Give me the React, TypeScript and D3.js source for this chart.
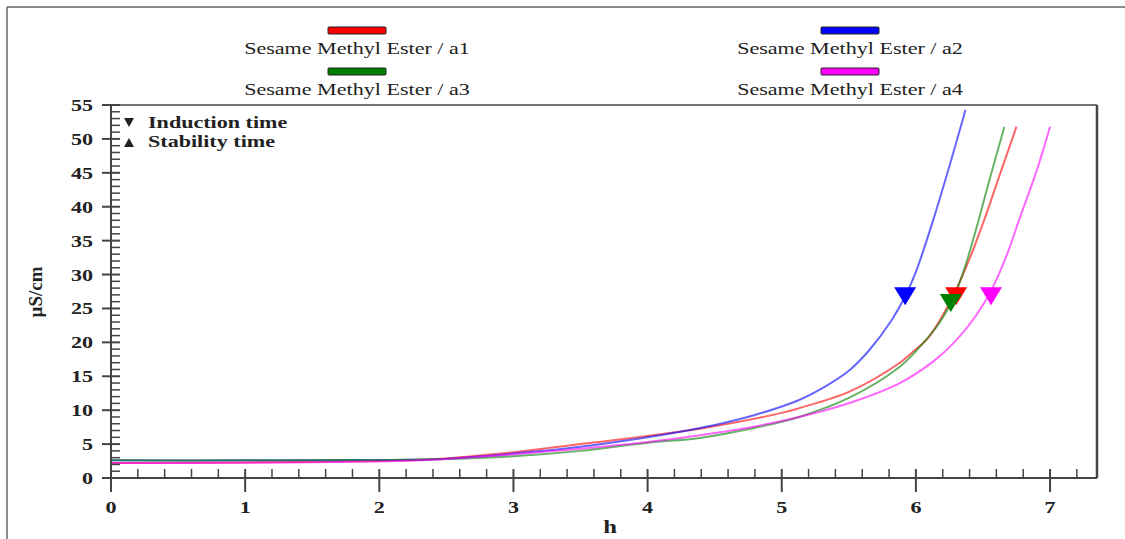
import React from "react";
import * as d3 from "d3";

const seriesNames = ["Sesame Methyl Ester / a1", "Sesame Methyl Ester / a2", "Sesame Methyl Ester / a3", "Sesame Methyl Ester / a4"];
const seriesColors = ["#ff0000", "#0000ff", "#008000", "#ff00ff"];

const a1H = [0, 1, 2, 2.4, 3, 3.5, 4, 4.4, 5, 5.13, 5.5, 5.88, 6.0, 6.08, 6.18, 6.3, 6.4, 6.51, 6.63, 6.75];
const a1V = [2.2, 2.3, 2.5, 2.75, 3.8, 5.0, 6.2, 7.3, 9.6, 10.3, 12.7, 17.0, 19.0, 20.4, 23.3, 27.8, 32.3, 38.1, 45.0, 51.8];

const a2H = [0, 1, 2, 2.4, 3, 3.5, 4, 4.4, 4.8, 5.13, 5.3, 5.5, 5.65, 5.82, 5.92, 6.0, 6.13, 6.25, 6.37];
const a2V = [2.6, 2.6, 2.65, 2.75, 3.6, 4.6, 6.0, 7.4, 9.3, 11.5, 13.2, 15.8, 18.8, 23.3, 26.8, 30.4, 38.1, 46.0, 54.3];

const a3H = [0, 1, 2, 2.4, 3, 3.5, 4, 4.39, 4.8, 5.13, 5.5, 5.88, 6.05, 6.18, 6.3, 6.38, 6.46, 6.56, 6.66];
const a3V = [2.6, 2.6, 2.65, 2.75, 3.2, 4.0, 5.2, 5.9, 7.4, 9.0, 11.8, 16.4, 19.8, 23.0, 27.5, 32.0, 37.5, 44.8, 51.8];

const a4H = [0, 1, 2, 2.4, 3, 3.5, 4, 4.39, 4.8, 5.13, 5.51, 5.88, 6.13, 6.3, 6.45, 6.57, 6.68, 6.77, 6.9, 7.0];
const a4V = [2.2, 2.25, 2.45, 2.7, 3.5, 4.3, 5.3, 6.3, 7.6, 9.0, 11.1, 14.0, 17.2, 20.3, 24.0, 28.0, 33.0, 38.1, 45.3, 51.8];

const inductionH = [6.30, 5.92, 6.26, 6.56];
const inductionV = [26.8, 26.8, 25.8, 26.8];

const xTicks = [0, 1, 2, 3, 4, 5, 6, 7];
const yTicks = [0, 5, 10, 15, 20, 25, 30, 35, 40, 45, 50, 55];
const xLabel = "h";
const yLabel = "µS/cm";
const markerLegend = ["Induction time", "Stability time"];

const W = 1125;
const H = 539;
const SERIF = "'Liberation Serif', 'Times New Roman', serif";
const AX = "#444";
const TXT = "#222";
const SX = 1.3;

function SText(props: { x: number; y: number; size: number; bold?: boolean; anchor?: string; children: any; fill?: string }) {
  const { x, y, size, bold, anchor, children, fill } = props;
  return (
    <text
      transform={`translate(${x},${y}) scale(${SX},1)`}
      fontFamily={SERIF}
      fontSize={size}
      fontWeight={bold ? "bold" : "normal"}
      textAnchor={anchor || "start"}
      fill={fill || TXT}
    >
      {children}
    </text>
  );
}

export default function App() {
  const x = d3.scaleLinear().domain([0, 7.35]).range([111, 1097]);
  const y = d3.scaleLinear().domain([0, 55]).range([478, 105]);

  const all = [
    { h: a1H, v: a1V },
    { h: a2H, v: a2V },
    { h: a3H, v: a3V },
    { h: a4H, v: a4V },
  ];
  const line = d3
    .line<[number, number]>()
    .x((d) => x(d[0]))
    .y((d) => y(d[1]))
    .curve(d3.curveCatmullRom.alpha(0.5));

  const xMinor = d3.range(0, 7.35, 0.2).filter((t) => Math.abs(t - Math.round(t)) > 1e-6);
  const yMinor = d3.range(0, 55, 1).filter((t) => t % 5 !== 0);

  const x0 = x(0);
  const y0 = y(0);
  const xR = x(7.35);
  const yT = y(55);

  const legendCx = [357, 850, 357, 850];
  const legendSy = [27, 27, 68, 68];

  return (
    <svg width={W} height={H} style={{ position: "absolute", left: 0, top: 0, background: "#fff" }}>
      <rect x={0} y={0} width={W} height={H} fill="#fff" />
      {/* outer frame */}
      <line x1={7} y1={7} x2={W} y2={7} stroke="#666" strokeWidth={1.5} />
      <line x1={7} y1={7} x2={7} y2={H} stroke="#666" strokeWidth={1.5} />

      {/* legend */}
      {seriesNames.map((name, i) => (
        <g key={name}>
          <rect
            x={legendCx[i] - 29}
            y={legendSy[i]}
            width={58}
            height={7}
            fill={seriesColors[i]}
            stroke="#222"
            strokeWidth={1}
            rx={1}
          />
          <SText x={legendCx[i]} y={legendSy[i] + 27} size={17} anchor="middle">
            {name}
          </SText>
        </g>
      ))}

      {/* series lines */}
      {all.map((s, i) => (
        <path
          key={i}
          d={line(s.h.map((h, k) => [h, s.v[k]] as [number, number])) || ""}
          fill="none"
          stroke={seriesColors[i]}
          strokeOpacity={0.6}
          strokeWidth={2}
        />
      ))}

      {/* induction time markers */}
      {inductionH.map((h, i) => {
        const cx = x(h);
        const cy = y(inductionV[i]);
        return (
          <polygon
            key={i}
            points={`${cx - 11},${cy - 9} ${cx + 11},${cy - 9} ${cx},${cy + 9}`}
            fill={seriesColors[i]}
          />
        );
      })}

      {/* frame top and right */}
      <line x1={x0} y1={yT} x2={xR} y2={yT} stroke={AX} strokeWidth={1.5} />
      <line x1={xR} y1={yT} x2={xR} y2={y0} stroke={AX} strokeWidth={2.5} />

      {/* x axis */}
      <line x1={x0} y1={y0} x2={xR} y2={y0} stroke={AX} strokeWidth={2} />
      {xMinor.map((t) => (
        <line key={t} x1={x(t)} y1={y0} x2={x(t)} y2={y0 - 9} stroke={AX} strokeWidth={1.5} />
      ))}
      {xTicks.map((t) => (
        <g key={t}>
          <line x1={x(t)} y1={y0 - 9} x2={x(t)} y2={y0 + 14} stroke={AX} strokeWidth={2} />
          <SText x={x(t)} y={513} size={17} bold anchor="middle">
            {t}
          </SText>
        </g>
      ))}
      <SText x={610} y={533} size={19} bold anchor="middle">
        {xLabel}
      </SText>

      {/* y axis */}
      <line x1={x0} y1={yT} x2={x0} y2={y0 + 14} stroke={AX} strokeWidth={2} />
      {yMinor.map((t) => (
        <line key={t} x1={x0} y1={y(t)} x2={x0 + 9} y2={y(t)} stroke={AX} strokeWidth={1.5} />
      ))}
      {yTicks.map((t) => (
        <g key={t}>
          <line x1={x0 - 9} y1={y(t)} x2={x0 + 9} y2={y(t)} stroke={AX} strokeWidth={2} />
          <SText x={93} y={y(t) + 6} size={17} bold anchor="end">
            {t}
          </SText>
        </g>
      ))}
      <text
        transform={`translate(42,292) rotate(-90)`}
        fontFamily={SERIF}
        fontSize={19}
        fontWeight="bold"
        textAnchor="middle"
        fill={TXT}
      >
        {yLabel}
      </text>

      {/* marker legend */}
      <polygon points="124,118 134,118 129,127" fill="#222" />
      <SText x={148} y={128} size={17} bold>
        {markerLegend[0]}
      </SText>
      <polygon points="124,147 134,147 129,138" fill="#222" />
      <SText x={148} y={147} size={17} bold>
        {markerLegend[1]}
      </SText>
    </svg>
  );
}
